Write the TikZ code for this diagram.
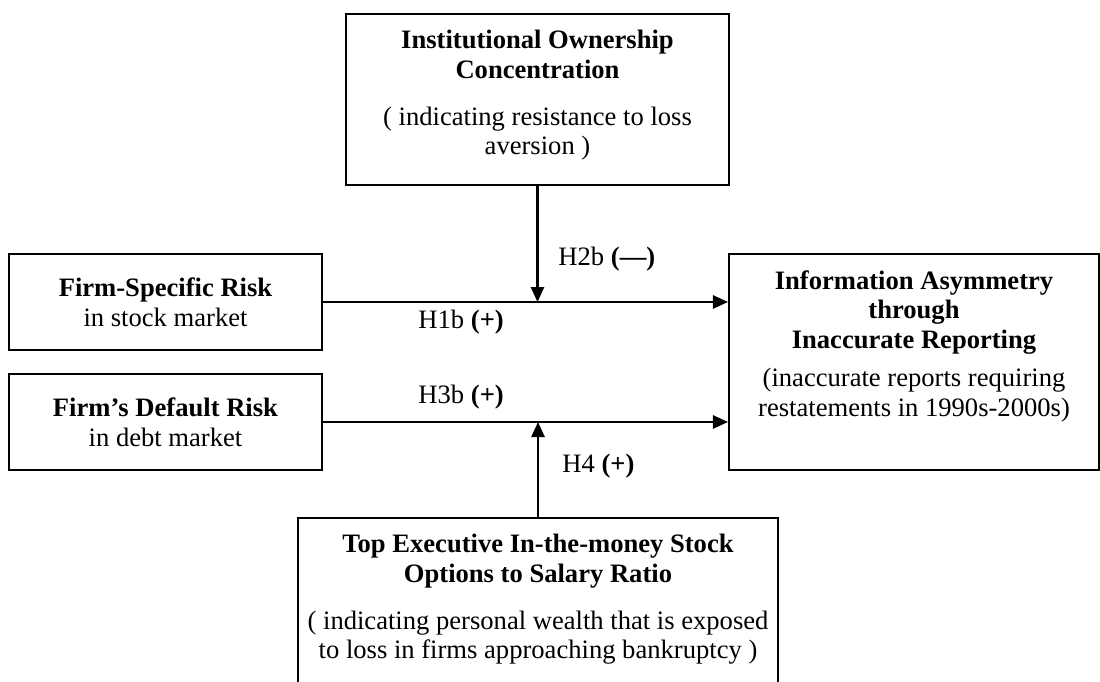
\documentclass[tikz,border=0pt]{standalone}
\usepackage{fontspec}
\setmainfont{Liberation Serif}
\usetikzlibrary{arrows.meta,positioning}

\begin{document}
\begin{tikzpicture}[x=0.44pt,y=-0.44pt,>={Triangle[length=6.6pt,width=5.8pt]},
  box/.style={draw,line width=0.9pt,inner sep=0pt},
  txt/.style={align=center,inner sep=0pt,font=\fontsize{11.7}{13}\selectfont},
  link/.style={->,line width=0.9pt},
  hyp/.style={anchor=base west,inner sep=0pt,font=\fontsize{11.7}{13}\selectfont}]
  \useasboundingbox (0,0) rectangle (1100,681);
  % risk measures on the left
  \node[box,txt,minimum width=137.7pt,minimum height=42.2pt] (risk) at (165.5,302)
    {\textbf{Firm-Specific Risk}\\ in stock market};
  \node[box,txt,minimum width=137.7pt,minimum height=42.2pt] (default) at (165.5,422)
    {\textbf{Firm’s Default Risk}\\ in debt market};
  % outcome
  \node[box,minimum width=162.8pt,minimum height=95pt] (outcome) at (914,362) {};
  \node[txt,below=7.5pt of outcome.north] (outcome-txt)
    {\textbf{Information Asymmetry}\\ \textbf{through}\\ \textbf{Inaccurate Reporting}\\[4pt]
     (inaccurate reports requiring\\ restatements in 1990s-2000s)};
  % moderators
  \node[box,minimum width=168.5pt,minimum height=75.2pt] (owner) at (537.5,99.5) {};
  \node[txt,below=7.5pt of owner.north] (owner-txt)
    {\textbf{Institutional Ownership}\\ \textbf{Concentration}\\[7.5pt]
     ( indicating resistance to loss\\ aversion )};
  \node[box,minimum width=211.2pt,minimum height=88pt] (options) at (538,618) {};
  \node[txt,below=7.5pt of options.north] (options-txt)
    {\textbf{Top Executive In-the-money Stock}\\ \textbf{Options to Salary Ratio}\\[7.5pt]
     ( indicating personal wealth that is exposed\\ to loss in firms approaching bankruptcy )};
  % paths
  \coordinate (h1) at (owner.south |- risk.east);
  \coordinate (h3) at (options.north |- default.east);
  \draw[link] (risk.east) -- (risk.east -| outcome.west);
  \draw[link] (default.east) -- (default.east -| outcome.west);
  \draw[link] (owner.south) -- (h1);
  \draw[link] (options.north) -- (h3);
  \node[hyp] (h1b) at (418,328) {H1b \textbf{(+)}};
  \node[hyp] (h2b) at (558,265) {H2b \textbf{(---)}};
  \node[hyp] (h3b) at (418,403) {H3b \textbf{(+)}};
  \node[hyp] (h4) at (562,472) {H4 \textbf{(+)}};
\end{tikzpicture}
\end{document}
